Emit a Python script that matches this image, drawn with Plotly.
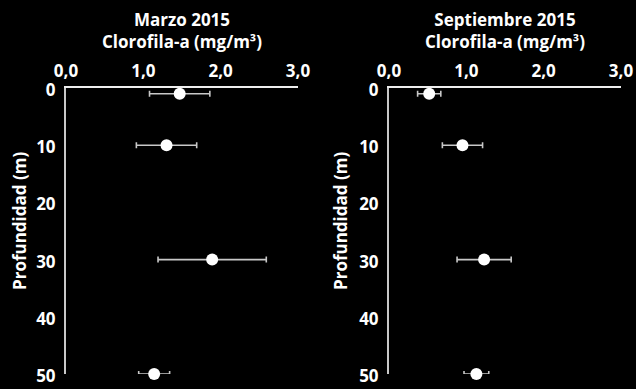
import plotly.graph_objects as go
from plotly.subplots import make_subplots

# Chlorophyll-a profiles (mean ± error) at four sampling depths
depth_m = [1, 10, 30, 50]

marzo_chl = [1.47, 1.30, 1.89, 1.14]
marzo_err = [0.39, 0.39, 0.70, 0.20]

septiembre_chl = [0.52, 0.95, 1.23, 1.13]
septiembre_err = [0.15, 0.26, 0.35, 0.16]

panel_titles = ["Marzo 2015", "Septiembre 2015"]
x_title = "Clorofila-a (mg/m³)"
y_title = "Profundidad (m)"
x_ticks = [0, 1, 2, 3]
y_ticks = [0, 10, 20, 30, 40, 50]

FONT = "Open Sans"
TEXT = "#ffffff"
W, H = 636, 389

fig = make_subplots(rows=1, cols=2)

series = [(marzo_chl, marzo_err), (septiembre_chl, septiembre_err)]
for i, (vals, errs) in enumerate(series, start=1):
    fig.add_trace(
        go.Scatter(
            x=vals,
            y=depth_m,
            mode="markers",
            marker=dict(color="#ffffff", size=12, line=dict(width=0)),
            error_x=dict(
                type="data",
                array=errs,
                color="#c8c8c8",
                thickness=1.6,
                width=3,
            ),
            showlegend=False,
            hoverinfo="skip",
            cliponaxis=False,
        ),
        row=1,
        col=i,
    )

x_domains = [[66 / W, 298 / W], [389 / W, 621 / W]]
y_domain = [1 - 374 / H, 1 - 88 / H]
y_title_x = [20, 341]

for i in range(2):
    xa = "xaxis" if i == 0 else "xaxis2"
    ya = "yaxis" if i == 0 else "yaxis2"
    fig.layout[xa].update(
        domain=x_domains[i],
        range=[0, 3],
        side="top",
        tickvals=x_ticks,
        tickformat=".1f",
        showgrid=False,
        zeroline=False,
        showline=True,
        linecolor="#eeeeee",
        linewidth=2,
        ticks="",
        automargin=False,
        ticklabelstandoff=2,
        tickfont=dict(family=FONT, size=17, color=TEXT, weight=700),
        title=dict(
            text=f"{panel_titles[i]}<br>{x_title}",
            font=dict(family=FONT, size=17, color=TEXT, weight=700),
            standoff=6,
        ),
    )
    fig.layout[ya].update(
        domain=y_domain,
        range=[50, 0],
        tickvals=y_ticks,
        showgrid=False,
        zeroline=False,
        showline=True,
        linecolor="#c8c8c8",
        linewidth=2,
        ticks="",
        automargin=False,
        ticklabelstandoff=5,
        ticklabelshift=-2,
        tickfont=dict(family=FONT, size=17, color=TEXT, weight=700),
    )
    # vertical depth label beside each panel
    fig.add_annotation(
        text=y_title,
        xref="paper",
        yref="paper",
        x=y_title_x[i] / W,
        y=1 - 221 / H,
        xanchor="center",
        yanchor="middle",
        textangle=-90,
        showarrow=False,
        font=dict(family=FONT, size=17, color=TEXT, weight=700),
    )

fig.update_layout(
    width=W,
    height=H,
    margin=dict(l=0, r=0, t=0, b=0),
    paper_bgcolor="#000000",
    plot_bgcolor="#000000",
    separators=",.",
)

fig.write_html("out.html")
